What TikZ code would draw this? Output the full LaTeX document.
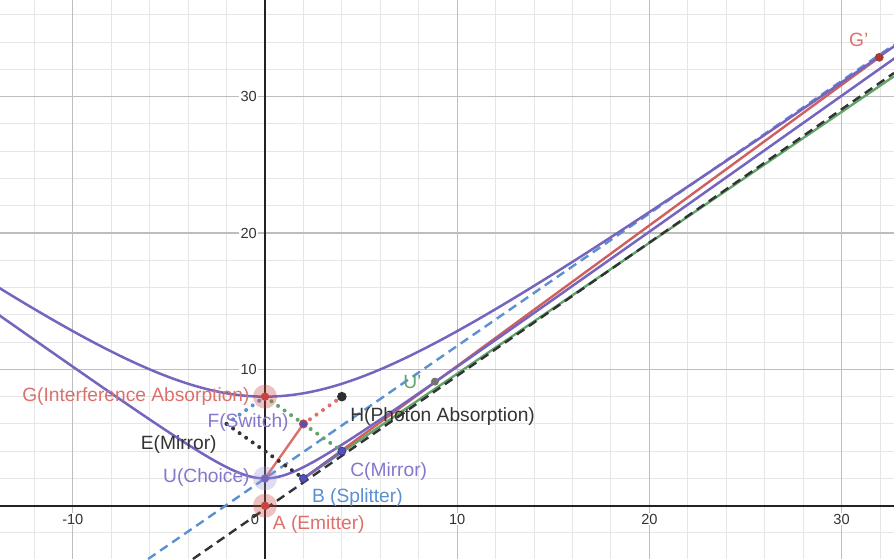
\documentclass[tikz,border=0pt]{standalone}
\usepackage{fontspec}
\setmainfont{Liberation Sans}
\definecolor{gridmin}{HTML}{E6E6E6}
\definecolor{gridmaj}{HTML}{BDBDBD}
\definecolor{axisc}{HTML}{222222}
\definecolor{dred}{HTML}{C74440}
\definecolor{lred}{HTML}{DE706C}
\definecolor{dpurp}{HTML}{7565BF}
\definecolor{lpurp}{HTML}{8677CC}
\definecolor{ppt}{HTML}{5252BE}
\definecolor{dblue}{HTML}{5B90D2}
\definecolor{dgreen}{HTML}{62A56C}
\definecolor{dblack}{HTML}{333333}
\begin{document}
\begin{tikzpicture}[x=9.61pt,y=6.8165pt,
  minorline/.style={gridmin,line width=0.5pt},
  majorline/.style={gridmaj,line width=0.6pt},
  axisline/.style={axisc,line width=1pt},
  ticklabel/.style={font=\fontsize{7.3}{8}\selectfont,text=black!80,fill=white,inner sep=0.6pt},
  curveline/.style={dpurp,line width=1.25pt},
  solidline/.style={line width=1.2pt},
  dashline/.style={line width=1.2pt,dash pattern=on 4.5pt off 2.8pt},
  dotline/.style={line width=2pt,line cap=round,dash pattern=on 0pt off 4pt},
  ptlabel/.style={font=\fontsize{9.6}{11}\selectfont,inner sep=0pt},
  halo/.style={fill opacity=0.33},
]
\useasboundingbox (-13.788,-3.910) rectangle (32.726,37.094);
\clip (-13.788,-3.910) rectangle (32.726,37.094);
\fill[white] (-13.788,-3.910) rectangle (32.726,37.094);
% grid
\foreach \gx in {-12,-10,...,32} \draw[minorline] (\gx,-3.91) -- (\gx,37.094);
\foreach \gy in {-2,0,...,36} \draw[minorline] (-13.788,\gy) -- (32.726,\gy);
\foreach \gx in {-10,10,20,30} \draw[majorline] (\gx,-3.91) -- (\gx,37.094);
\foreach \gy in {10,20,30} \draw[majorline] (-13.788,\gy) -- (32.726,\gy);
% tick labels
\node[ticklabel] (tm10) at ([yshift=-6.65pt]-10,0) {-10};
\node[ticklabel] (t0) at ([xshift=-5pt,yshift=-6.65pt]0,0) {0};
\node[ticklabel] (t10) at ([yshift=-6.65pt]10,0) {10};
\node[ticklabel] (t20) at ([yshift=-6.65pt]20,0) {20};
\node[ticklabel] (t30) at ([yshift=-6.65pt]30,0) {30};
\node[ticklabel,anchor=east] (ty10) at ([xshift=-3.3pt]0,10) {10};
\node[ticklabel,anchor=east] (ty20) at ([xshift=-3.3pt]0,20) {20};
\node[ticklabel,anchor=east] (ty30) at ([xshift=-3.3pt]0,30) {30};
% axes
\coordinate (xl) at (-13.788,0); \coordinate (xr) at (32.726,0);
\coordinate (yb) at (0,-3.91); \coordinate (yt) at (0,37.094);
\draw[axisline] (xl) -- (xr);
\draw[axisline] (yb) -- (yt);
% points
\coordinate (A) at (0,0);
\coordinate (U) at (0,2);
\coordinate (G) at (0,8);
\coordinate (B) at (2,2);
\coordinate (C) at (4,4);
\coordinate (F) at (2,6);
\coordinate (H) at (4,8);
\coordinate (E) at (-2,6);
\coordinate (Gp) at (31.96,32.89);
\coordinate (Up) at (8.84,9.1);
\coordinate (BL) at (-6.08,-3.91);
\coordinate (BR) at (32.726,33.81);
\coordinate (KL) at (-3.75,-3.91);
\coordinate (KR) at (32.726,31.74);
\coordinate (GR) at (32.726,31.5);
% long lines
\draw[solidline,dgreen] (B) -- (GR);
\draw[dashline,dblack] (KL) -- (KR);
\draw[solidline,dred!85] (B) -- (Gp);
\draw[solidline,dpurp] (B) -- (C);
\draw[dashline,dblue] (BL) -- (BR);
% hyperbolas
\draw[curveline] plot[domain=-13.9:32.8,samples=140,smooth] (\x,{sqrt(64+\x*\x)});
\draw[curveline] plot[domain=-13.9:32.8,samples=140,smooth] (\x,{sqrt(4+\x*\x)});
% short paths
\draw[solidline,lred] (U) -- (F);
\draw[dotline,lred] (F) -- (H);
\draw[dotline,dgreen] (G) -- (C);
\draw[dotline,dblue] (E) -- (G);
\draw[dotline,dblack] (E) -- (B);
% point markers
\fill[dred,halo] (A) circle (6pt);
\fill[dred] (A) circle (2.1pt);
\fill[dred,halo] (G) circle (6pt);
\fill[dred] (G) circle (2.1pt);
\fill[dpurp!70,halo] (U) circle (6pt);
\fill[dpurp] (U) circle (2.1pt);
\filldraw[fill=ppt,draw=ppt!70!black,line width=0.4pt] (B) circle (2pt);
\filldraw[fill=ppt,draw=ppt!70!black,line width=0.4pt] (C) circle (2pt);
\filldraw[fill=ppt,draw=dred,line width=0.5pt] (F) circle (2pt);
\fill[dblack!90!black] (H) circle (2.4pt);
\fill[dred!85!black] (Gp) circle (2.2pt);
\fill[black!55] (Up) circle (2pt);
% labels
\node[ptlabel,lred,anchor=east] (lG) at ([xshift=-7.5pt]G) {G(Interference Absorption)};
\node[ptlabel,lpurp,anchor=east] (lF) at ([xshift=-7.2pt,yshift=0.5pt]F) {F(Switch)};
\node[ptlabel,dblack,anchor=east] (lE) at ([xshift=-4.8pt,yshift=-10.5pt]E) {E(Mirror)};
\node[ptlabel,lpurp,anchor=east] (lU) at ([xshift=-7.5pt,yshift=0.7pt]U) {U(Choice)};
\node[ptlabel,lred,anchor=west] (lA) at ([xshift=3.75pt,yshift=-9.6pt]A) {A (Emitter)};
\node[ptlabel,dblue,anchor=west] (lB) at ([xshift=4.1pt,yshift=-9.5pt]B) {B (Splitter)};
\node[ptlabel,lpurp,anchor=west] (lC) at ([xshift=4pt,yshift=-10.2pt]C) {C(Mirror)};
\node[ptlabel,dblack,anchor=west] (lH) at ([xshift=4pt,yshift=-10pt]H) {H(Photon Absorption)};
\node[ptlabel,dgreen,anchor=east] (lUp) at ([xshift=-6.5pt]Up) {U'};
\node[ptlabel,lred,anchor=east] (lGp) at ([xshift=-5.25pt,yshift=8.8pt]Gp) {G'};
\end{tikzpicture}
\end{document}
